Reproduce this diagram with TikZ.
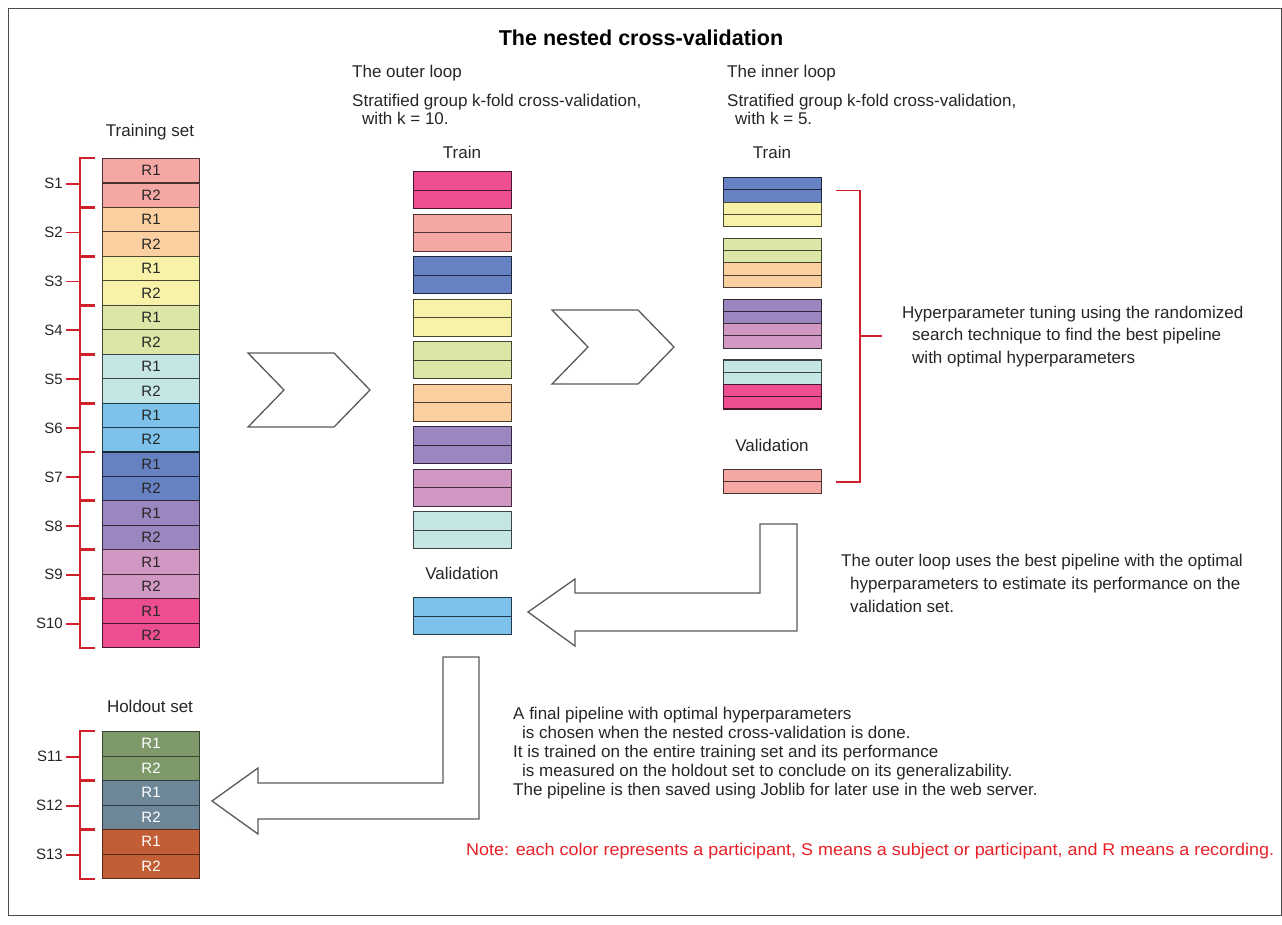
\documentclass[tikz,border=0pt]{standalone}
\usepackage{fontspec}
\setmainfont{Liberation Sans}
\usepackage{graphicx}
\usetikzlibrary{calc}
\definecolor{cS1}{RGB}{245,167,163}
\definecolor{cS2}{RGB}{250,208,160}
\definecolor{cS3}{RGB}{248,242,168}
\definecolor{cS4}{RGB}{220,230,166}
\definecolor{cS5}{RGB}{196,230,228}
\definecolor{cS6}{RGB}{125,194,234}
\definecolor{cS7}{RGB}{103,130,194}
\definecolor{cS8}{RGB}{156,134,192}
\definecolor{cS9}{RGB}{209,152,196}
\definecolor{cS10}{RGB}{236,78,145}
\definecolor{cS11}{RGB}{126,153,105}
\definecolor{cS12}{RGB}{109,135,153}
\definecolor{cS13}{RGB}{193,94,54}
\definecolor{brkred}{RGB}{208,32,44}
\definecolor{notered}{RGB}{232,32,38}
\definecolor{txtc}{RGB}{38,38,38}
\definecolor{arrowgray}{RGB}{90,90,90}
\tikzset{
  rowbox/.style={draw, line width=1.1pt, minimum width=97pt, minimum height=24.5pt, inner sep=0pt,
    font=\fontsize{15}{15}\selectfont, text=txtc, anchor=north west},
  halfbox/.style={draw, line width=1.2pt, minimum width=98pt, minimum height=18.5pt, inner sep=0pt, anchor=north west},
  qbox/.style={draw, line width=1.1pt, minimum width=98pt, minimum height=12.25pt, inner sep=0pt, anchor=north west},
  brk/.style={draw=brkred, line width=1.8pt},
  slab/.style={font=\fontsize{15}{15}\selectfont, text=txtc, inner sep=0pt, anchor=east},
  arrowline/.style={draw=arrowgray, line width=1.3pt, fill=white},
  lbl/.style={font=\fontsize{17}{20}\selectfont, text=txtc, inner sep=0pt, text height=12.2pt, text depth=0pt},
  txtl/.style={lbl, anchor=west},
}
\begin{document}
\begin{tikzpicture}[x=1pt,y=-1pt]
\useasboundingbox (0,0) rectangle (1282,924);
\draw[line width=0.8pt, black!70] (8.5,8.5) rectangle (1281,915.5);

% title
\node[font=\fontsize{21.5}{24}\bfseries, text=black, inner sep=0pt] (title) at (641,38) {The nested cross-validation};

% training set
\node[lbl] (trlbl) at (150,130) {Training set};
\foreach \col [count=\g] in {cS1,cS2,cS3,cS4,cS5,cS6,cS7,cS8,cS9,cS10} {
  \node[rowbox, fill=\col, draw=\col!30!black] (t\g-a) at (102,{158+(2*\g-2)*24.45}) {R1};
  \node[rowbox, fill=\col, draw=\col!30!black] (t\g-b) at (102,{158+(2*\g-1)*24.45}) {R2};
  \draw[brk] ([xshift=-7pt]t\g-a.north west) -- ([xshift=-22pt]t\g-a.north west)
     -- ([xshift=-22pt]t\g-b.south west) -- ([xshift=-7pt]t\g-b.south west);
  \coordinate (tm\g) at ([xshift=-36pt]t\g-a.south west);
  \draw[brk] ([xshift=-22pt]t\g-a.south west) -- (tm\g);
  \node[slab] (s\g) at ([xshift=-3pt]tm\g) {S\g};
}

% holdout set
\node[lbl] (holbl) at (150,706) {Holdout set};
\foreach \col/\num [count=\g] in {cS11/11,cS12/12,cS13/13} {
  \node[rowbox, fill=\col, draw=\col!45!black, text=white] (h\g-a) at (102,{731+(2*\g-2)*24.5}) {R1};
  \node[rowbox, fill=\col, draw=\col!45!black, text=white] (h\g-b) at (102,{731+(2*\g-1)*24.5}) {R2};
  \draw[brk] ([xshift=-7pt]h\g-a.north west) -- ([xshift=-22pt]h\g-a.north west)
     -- ([xshift=-22pt]h\g-b.south west) -- ([xshift=-7pt]h\g-b.south west);
  \coordinate (hm\g) at ([xshift=-36pt]h\g-a.south west);
  \draw[brk] ([xshift=-22pt]h\g-a.south west) -- (hm\g);
  \node[slab] (hs\g) at ([xshift=-3pt]hm\g) {S\num};
}

% outer loop texts
\node[txtl] (ol1) at (352,71) {The outer loop};
\node[txtl] (ol2) at (352,100) {Stratified group k-fold cross-validation,};
\node[txtl] (ol3) at (362,118) {with k = 10.};
\node[txtl] (il1) at (727,71) {The inner loop};
\node[txtl] (il2) at (727,100) {Stratified group k-fold cross-validation,};
\node[txtl] (il3) at (735,118) {with k = 5.};

% outer train
\node[lbl] (otrain) at (462,152) {Train};
\foreach \col [count=\k] in {cS10,cS1,cS7,cS3,cS4,cS2,cS8,cS9,cS5} {
  \node[halfbox, fill=\col, draw=\col!30!black] (o\k-a) at (413,{171+(\k-1)*42.5}) {};
  \node[halfbox, fill=\col, draw=\col!30!black] (o\k-b) at (413,{171+(\k-1)*42.5+18.5}) {};
}
\node[lbl] (oval) at (462,573) {Validation};
\node[halfbox, fill=cS6, draw=cS6!30!black] (ov-a) at (413,597) {};
\node[halfbox, fill=cS6, draw=cS6!30!black] (ov-b) at (413,615.5) {};

% inner train
\node[lbl] (itrain) at (772,152) {Train};
\foreach \ca/\cb [count=\k] in {cS7/cS3,cS4/cS2,cS8/cS9,cS5/cS10} {
  \pgfmathsetmacro\yt{177+(\k-1)*60.8}
  \node[qbox, fill=\ca, draw=\ca!30!black] (i\k-1) at (723,\yt) {};
  \node[qbox, fill=\ca, draw=\ca!30!black] (i\k-2) at (723,\yt+12.25) {};
  \node[qbox, fill=\cb, draw=\cb!30!black] (i\k-3) at (723,\yt+24.5) {};
  \node[qbox, fill=\cb, draw=\cb!30!black] (i\k-4) at (723,\yt+36.75) {};
}
\node[lbl] (ival) at (772,445) {Validation};
\node[qbox, fill=cS1, draw=cS1!30!black, minimum height=12pt] (iv-1) at (723,469) {};
\node[qbox, fill=cS1, draw=cS1!30!black, minimum height=12pt] (iv-2) at (723,481) {};

% inner bracket
\coordinate (bt) at ([xshift=14pt]i1-1.south east);
\coordinate (bb) at ([xshift=14pt]iv-1.south east);
\draw[brk, line width=1.6pt] (bt) -- ++(24,0) |- (bb);
\coordinate (bm) at ($(bt)!0.5!(bb)$);
\draw[brk, line width=1.6pt] ([xshift=24pt]bm) -- ([xshift=46pt]bm);

% hyperparameter text
\node[txtl] (hp1) at (902,312) {Hyperparameter tuning using the randomized};
\node[txtl] (hp2) at (912,334) {search technique to find the best pipeline};
\node[txtl] (hp3) at (912,357) {with optimal hyperparameters};

\node[txtl] (ou1) at (841,560) {The outer loop uses the best pipeline with the optimal};
\node[txtl] (ou2) at (850,583) {hyperparameters to estimate its performance on the};
\node[txtl] (ou3) at (850,606) {validation set.};

\node[txtl] (fp1) at (513,713) {A final pipeline with optimal hyperparameters};
\node[txtl] (fp2) at (522,732) {is chosen when the nested cross-validation is done.};
\node[txtl] (fp3) at (513,751) {It is trained on the entire training set and its performance};
\node[txtl] (fp4) at (522,770) {is measured on the holdout set to conclude on its generalizability.};
\node[txtl] (fp5) at (513,789) {The pipeline is then saved using Joblib for later use in the web server.};

\node[txtl, text=notered] (note) at (466,849) {\resizebox{808pt}{\height}{Note: each color represents a participant, S means a subject or participant, and R means a recording.}};

% chevrons
\draw[arrowline] (248,353) -- (334,353) -- (370,390) -- (334,427) -- (248,427) -- (284,390) -- cycle;
\draw[arrowline] (552,310) -- (638,310) -- (674,347) -- (638,384) -- (552,384) -- (588,347) -- cycle;

% bent arrows
\draw[arrowline] (528,612) -- (575,579) -- (575,593) -- (760,593) -- (760,524) -- (797,524)
   -- (797,631) -- (575,631) -- (575,646) -- cycle;
\draw[arrowline] (212,801) -- (258,768) -- (258,783) -- (443,783) -- (443,657) -- (479,657)
   -- (479,819) -- (258,819) -- (258,834) -- cycle;
\end{tikzpicture}
\end{document}
